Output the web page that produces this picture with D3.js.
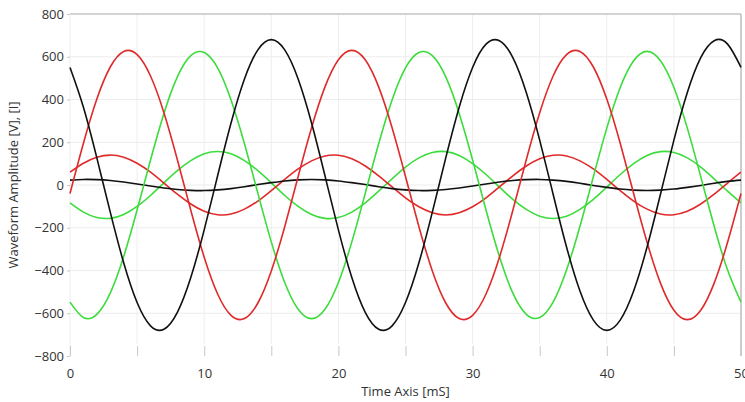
<!DOCTYPE html>
<html>
<head>
<meta charset="utf-8">
<script src="https://cdn.jsdelivr.net/npm/d3@7"></script>
<style>
	body { margin: 0; background: #fff; }
	svg text { font-family: "Open Sans", "Noto Sans", sans-serif; fill: #333; }
</style>
</head>
<body>
<div id="chart-area"></div>
<script>

// time axis in mS, one sample per mS
let time = d3.range(0, 51);

let blackBig = [550, 364, 127, -127, -364, -550, -659, -675, -596, -433, -210, 43, 290, 496, 632, 680, 632, 496, 290, 43,
	-210, -433, -596, -675, -659, -550, -364, -127, 127, 364, 550, 659, 675, 596, 433, 210, -43, -290, -496, -632,
	-680, -632, -496, -290, -43, 210, 433, 596, 675, 659, 550];

let redBig = [-40, 195, 402, 552, 625, 610, 510, 338, 118, -118, -338, -510, -610, -625, -552, -402, -195, 40, 268, 459,
	586, 630, 586, 459, 268, 40, -195, -402, -552, -625, -610, -510, -338, -118, 118, 338, 510, 610, 625, 552,
	402, 195, -40, -268, -459, -586, -630, -586, -459, -268, -40];

let greenBig = [-548, -620, -605, -506, -335, -117, 117, 335, 506, 605, 620, 548, 398, 193, -39, -266, -456, -581, -625, -581,
	-456, -266, -39, 193, 398, 548, 620, 605, 506, 335, 117, -117, -335, -506, -605, -620, -548, -398, -193, 39,
	266, 456, 581, 625, 581, 456, 266, 39, -193, -398, -548];

let redSmall = [60, 102, 130, 140, 130, 102, 60, 9, -43, -89, -123, -139, -136, -113, -75, -26, 26, 75, 113, 136,
	139, 123, 89, 43, -9, -60, -102, -130, -140, -130, -102, -60, -9, 43, 89, 123, 139, 136, 113, 75,
	26, -26, -75, -113, -136, -139, -123, -89, -43, 9, 60];

let greenSmall = [-84, -127, -152, -156, -138, -100, -49, 10, 67, 114, 146, 157, 146, 114, 67, 10, -49, -100, -138, -156,
	-152, -127, -84, -29, 29, 84, 127, 152, 156, 138, 100, 49, -10, -67, -114, -146, -157, -146, -114, -67,
	-10, 49, 100, 138, 156, 152, 127, 84, 29, -29, -84];

let blackSmall = [23, 26, 25, 21, 14, 5, -5, -14, -21, -25, -26, -23, -17, -8, 2, 11, 19, 24, 26, 24,
	19, 11, 2, -8, -17, -23, -26, -25, -21, -14, -5, 5, 14, 21, 25, 26, 23, 17, 8, -2,
	-11, -19, -24, -26, -24, -19, -11, -2, 8, 17, 23];

let xTicks = [0, 10, 20, 30, 40, 50];
let yTicks = [-800, -600, -400, -200, 0, 200, 400, 600, 800];

let series = [
	{values: greenSmall, color: "#3ddc3d"},
	{values: redSmall, color: "#e02a2a"},
	{values: blackSmall, color: "#111"},
	{values: greenBig, color: "#3ddc3d"},
	{values: redBig, color: "#e02a2a"},
	{values: blackBig, color: "#111"}
];

let margin = {top: 14, right: 4, bottom: 46, left: 70};
let width = 745 - margin.left - margin.right;
let height = 402 - margin.top - margin.bottom;

let svg = d3.select("#chart-area").append("svg")
		.attr("width", 745)
		.attr("height", 402)
	.append("g")
		.attr("transform", "translate(" + margin.left + "," + margin.top + ")");

let xscale = d3.scaleLinear().domain([0, 50]).range([0, width]);
let yscale = d3.scaleLinear().domain([-800, 800]).range([height, 0]);

// grid
svg.append("g").selectAll("line.h")
	.data(yTicks.slice(1, -1))
	.enter().append("line")
	.attr("x1", 0).attr("x2", width)
	.attr("y1", d => yscale(d)).attr("y2", d => yscale(d))
	.attr("stroke", "#ececec");

svg.append("g").selectAll("line.v")
	.data(d3.range(5, 50, 5))
	.enter().append("line")
	.attr("x1", d => xscale(d)).attr("x2", d => xscale(d))
	.attr("y1", 0).attr("y2", height - 12)
	.attr("stroke", "#eeeeee");

// frame: top line, right side, faint left
svg.append("line").attr("x1", 0).attr("x2", width).attr("y1", 0).attr("y2", 0).attr("stroke", "#c4c4c4").attr("stroke-width", 1.5);
svg.append("line").attr("x1", width).attr("x2", width).attr("y1", 0).attr("y2", height).attr("stroke", "#bdbdbd").attr("stroke-width", 1.5);
svg.append("line").attr("x1", 0).attr("x2", 0).attr("y1", 0).attr("y2", height).attr("stroke", "#eeeeee");

// axes
let xAxis = d3.axisBottom(xscale).tickValues(d3.range(0, 51, 5)).tickSize(10).tickPadding(6)
	.tickFormat(d => xTicks.includes(d) ? d : "");
let xAxisGroup = svg.append("g").attr("class", "axis x-axis")
	.attr("transform", "translate(0," + (height - 10) + ")")
	.call(xAxis);
xAxisGroup.select(".domain").remove();
xAxisGroup.selectAll("line").attr("stroke", "#c8c8c8");
xAxisGroup.selectAll("text").style("font-size", "13px").attr("dy", "1.2em").attr("fill", "#333");

let yAxis = d3.axisLeft(yscale).tickValues(yTicks).tickSize(3).tickPadding(3);
let yAxisGroup = svg.append("g").attr("class", "axis y-axis").call(yAxis);
yAxisGroup.select(".domain").remove();
yAxisGroup.selectAll("line").attr("stroke", "#c8c8c8");
yAxisGroup.selectAll("text").style("font-size", "13px").attr("fill", "#333");

// lines
let line = d3.line()
	.x((d, i) => xscale(time[i]))
	.y(d => yscale(d))
	.curve(d3.curveNatural);

svg.selectAll("path.wave")
	.data(series)
	.enter().append("path")
	.attr("class", "wave")
	.attr("fill", "none")
	.attr("stroke", d => d.color)
	.attr("stroke-width", 1.6)
	.attr("d", d => line(d.values));

// labels
svg.append("text")
	.attr("transform", "translate(" + (width / 2) + "," + (height + 40) + ")")
	.style("text-anchor", "middle")
	.style("font-size", "13px")
	.text("Time Axis [mS]");

svg.append("text")
	.attr("transform", "rotate(-90)")
	.attr("y", -52)
	.attr("x", -height / 2)
	.style("text-anchor", "middle")
	.style("font-size", "13px")
	.text("Waveform Amplitude [V], [I]");

</script>
</body>
</html>
